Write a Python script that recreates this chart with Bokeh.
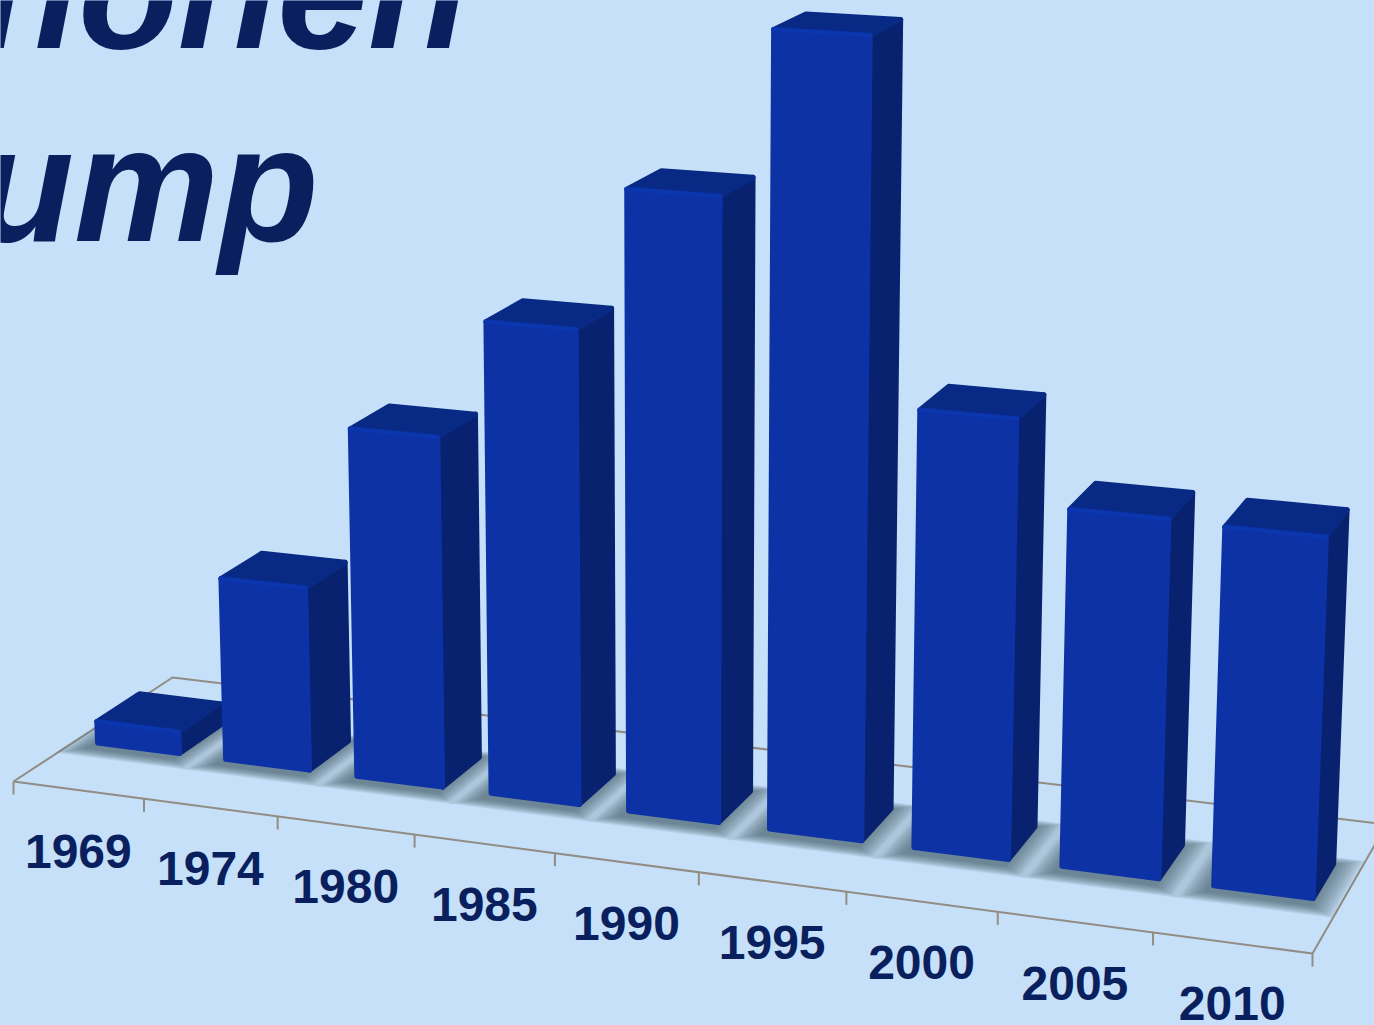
import numpy as np
from bokeh.plotting import figure
from bokeh.models import Range1d
from bokeh.core.properties import value
from bokeh.embed import file_html
from bokeh.resources import INLINE

# ---- data (value axis is unlabelled; tallest bar = 100)
years = ["1969", "1974", "1980", "1985", "1990", "1995", "2000", "2005", "2010"]
values = [3.4, 24.8, 46.3, 61.6, 79.5, 100.0, 55.4, 45.0, 44.7]
title_lines = ["nonen", "ump"]

BG = "#c5e0f8"
FRONT = "#0d32a6"
SIDE = "#08226f"
TOP = "#082a85"
INK = "#0a1f5e"
AXIS = "#918c84"

# ---- perspective camera: category u, depth v, height h -> screen pixels
FLOOR = [((0, 0), (13, 781)), ((9, 0), (1312, 953)), ((0, 1), (172, 677)), ((9, 1), (1386, 824))]
VANISH = np.array([680.0, 18100.0, 1.0])
H_UNIT = -0.0004297

A, b = [], []
for (u, v), (x, y) in FLOOR:
    A.append([u, v, 1, 0, 0, 0, -u * x, -v * x]); b.append(x)
    A.append([0, 0, 0, u, v, 1, -u * y, -v * y]); b.append(y)
s = np.linalg.solve(np.array(A, float), np.array(b, float))
HOM = np.array([[s[0], s[1], s[2]], [s[3], s[4], s[5]], [s[6], s[7], 1.0]])


def proj(u, v, h=0.0):
    q = HOM @ np.array([u, v, 1.0]) + VANISH * (h * H_UNIT)
    return float(q[0] / q[2]), float(q[1] / q[2])


def poly(points):
    pts = [proj(*pt) for pt in points]
    return [a for a, _ in pts], [c for _, c in pts]


GAP, V0, V1 = 0.17, 0.36, 0.64

p = figure(width=1374, height=1025, x_range=Range1d(0, 1374), y_range=Range1d(1025, 0),
           output_backend="svg", toolbar_location=None, min_border=0,
           background_fill_color=BG, border_fill_color=BG, outline_line_color=None)
p.axis.visible = False
p.grid.visible = False

# floor outline and ticks
fx, fy = poly([(0, 0), (9, 0), (9, 1), (0, 1), (0, 0)])
p.line(fx, fy, line_color=AXIS, line_width=2)
tx, ty = zip(*[proj(i, 0) for i in range(len(years) + 1)])
p.segment(tx, ty, tx, [t + 13 for t in ty], line_color=AXIS, line_width=2)

# soft shadow on the floor, built from stacked translucent layers
LAYERS = 12
for k in range(LAYERS):
    f = 1 - k / (LAYERS - 1)
    xs, ys = [], []
    for i in range(len(years)):
        u0, u1 = i + GAP - 0.16 * f - 0.03, i + 1 - GAP + 0.17 * f
        a0, a1 = V0 - 0.065 * f - 0.035, V1 + 0.05 * f + 0.01
        px, py = poly([(u0, a0), (u1, a0), (u1, a1), (u0, a1)])
        xs.append(px); ys.append(py)
    p.patches(xs, ys, fill_color="#4a5a6a", fill_alpha=0.085, line_color=None)

# bars, painted left to right; a wide round-joined outline rounds the corners,
# so the faces are drawn slightly inside the bar's nominal box
xs, ys, cols = [], [], []
hx, hy = [], []
for i, val in enumerate(values):
    u0, u1 = i + GAP + 0.008, i + 1 - GAP - 0.01
    a0, a1 = V0 + 0.01, V1
    h0, h1 = 0.15, val - 0.3
    for face, col in (
        ([(u1, a0, h0), (u1, a1, h0), (u1, a1, h1), (u1, a0, h1)], SIDE),
        ([(u0, a0, h1), (u1, a0, h1), (u1, a1, h1), (u0, a1, h1)], TOP),
        ([(u0, a0, h0), (u1, a0, h0), (u1, a0, h1), (u0, a0, h1)], FRONT),
    ):
        px, py = poly(face)
        xs.append(px); ys.append(py); cols.append(col)
    px, py = poly([(u0, a0, h1), (u1, a0, h1)])
    hx.append(px); hy.append(py)
p.patches(xs, ys, fill_color=cols, line_color=cols, line_width=5, line_join="round")
p.multi_line(hx, hy, line_color="#0c36ad", line_width=4, line_cap="round")

# category labels
lx, ly = zip(*[proj(i + 0.5, 0) for i in range(len(years))])
p.text(lx, [y + 61 for y in ly], text=years, text_align="center", text_baseline="middle",
       text_color=INK, text_font=value("Liberation Sans"), text_font_style="bold",
       text_font_size="48px")

# title, cut off by the edges of the picture as in the reference
p.text([467, 318], [-9, 184], text=title_lines, text_align="right", text_baseline="alphabetic",
       text_color=INK, text_font=value("Liberation Sans"), text_font_style="bold italic",
       text_font_size="163px")

template = "{% block postamble %}<style>html,body{margin:0;padding:0;background:" + BG + ";overflow:hidden}</style>{% endblock %}"
open("out.html", "w").write(file_html(p, INLINE, template=template))
